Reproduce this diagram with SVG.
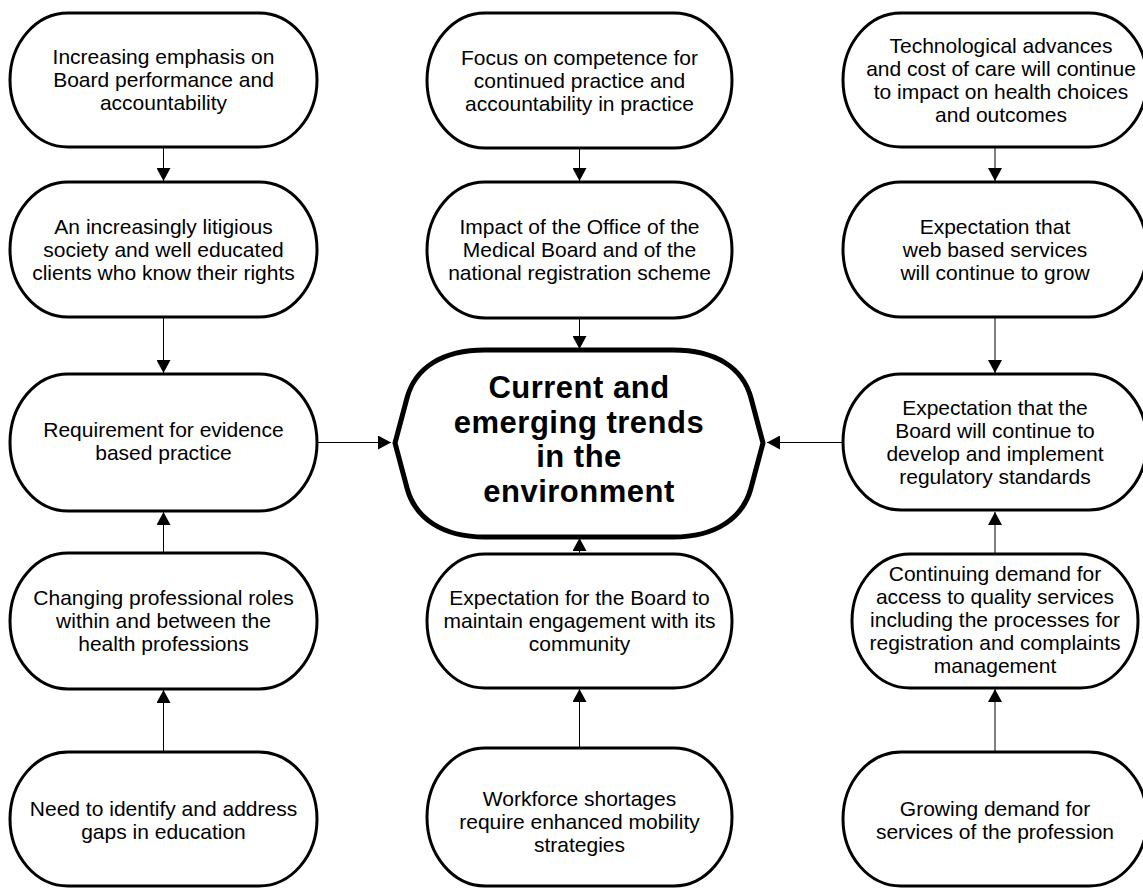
<svg xmlns="http://www.w3.org/2000/svg" width="1143" height="892" viewBox="0 0 1143 892">
<style>
.node{fill:#fff;stroke:#000;stroke-width:3}
.core{fill:#fff;stroke:#000;stroke-width:5}
.t{font-family:"Liberation Sans",Arial,sans-serif;font-size:21px;fill:#000;text-anchor:middle}
.tb{font-family:"Liberation Sans",Arial,sans-serif;font-size:31px;font-weight:bold;fill:#000;text-anchor:middle;letter-spacing:0.5px}
.c{stroke:#000;stroke-width:1;fill:none;marker-end:url(#ah)}
</style>
<defs>
<marker id="ah" markerUnits="userSpaceOnUse" markerWidth="14" markerHeight="14" refX="13" refY="7" orient="auto">
<path d="M0,0 L13,7 L0,14 Z" fill="#000"/>
</marker>
</defs>
<rect width="1143" height="892" fill="#fff"/>
<g id="connectors">
<line class="c" x1="163.5" y1="147" x2="163.5" y2="181"/>
<line class="c" x1="163.5" y1="317" x2="163.5" y2="373"/>
<line class="c" x1="163.5" y1="752" x2="163.5" y2="690"/>
<line class="c" x1="163.5" y1="553" x2="163.5" y2="512"/>
<line class="c" x1="317" y1="442.5" x2="391" y2="442.5"/>
<line class="c" x1="579.5" y1="148" x2="579.5" y2="181"/>
<line class="c" x1="579.5" y1="318" x2="579.5" y2="349"/>
<line class="c" x1="579.5" y1="748" x2="579.5" y2="689"/>
<line class="c" x1="579.5" y1="554" x2="579.5" y2="538"/>
<line class="c" x1="995" y1="147" x2="995" y2="181"/>
<line class="c" x1="995" y1="317" x2="995" y2="373"/>
<line class="c" x1="995" y1="752" x2="995" y2="689"/>
<line class="c" x1="995" y1="554" x2="995" y2="512"/>
<line class="c" x1="843" y1="442.5" x2="767" y2="442.5"/>
</g>
<g id="n-l1"><rect class="node" x="10" y="13" width="307" height="134" rx="58" ry="67"/>
<text class="t"><tspan x="163.5" y="64">Increasing emphasis on</tspan><tspan x="163.5" y="87">Board performance and</tspan><tspan x="163.5" y="110">accountability</tspan></text></g>
<g id="n-l2"><rect class="node" x="10" y="182" width="307" height="135" rx="58" ry="67.5"/>
<text class="t"><tspan x="163.5" y="233.5">An increasingly litigious</tspan><tspan x="163.5" y="256.5">society and well educated</tspan><tspan x="163.5" y="279.5">clients who know their rights</tspan></text></g>
<g id="n-l3"><rect class="node" x="10" y="374" width="307" height="137" rx="58" ry="68.5"/>
<text class="t"><tspan x="163.5" y="437">Requirement for evidence</tspan><tspan x="163.5" y="460">based practice</tspan></text></g>
<g id="n-l4"><rect class="node" x="10" y="553" width="307" height="136" rx="58" ry="68"/>
<text class="t"><tspan x="163.5" y="605">Changing professional roles</tspan><tspan x="163.5" y="628">within and between the</tspan><tspan x="163.5" y="651">health professions</tspan></text></g>
<g id="n-l5"><rect class="node" x="10" y="752" width="307" height="134" rx="58" ry="67"/>
<text class="t"><tspan x="163.5" y="816">Need to identify and address</tspan><tspan x="163.5" y="839">gaps in education</tspan></text></g>
<g id="n-m1"><rect class="node" x="427" y="13" width="305" height="135" rx="58" ry="67.5"/>
<text class="t"><tspan x="579.5" y="64.5">Focus on competence for</tspan><tspan x="579.5" y="87.5">continued practice and</tspan><tspan x="579.5" y="110.5">accountability in practice</tspan></text></g>
<g id="n-m2"><rect class="node" x="427" y="182" width="305" height="136" rx="58" ry="68"/>
<text class="t"><tspan x="579.5" y="234">Impact of the Office of the</tspan><tspan x="579.5" y="257">Medical Board and of the</tspan><tspan x="579.5" y="280">national registration scheme</tspan></text></g>
<g id="n-core"><path class="core" d="M485,350 H673 C716,350 743,368 751,398 L763,443 L751,488 C743,518 716,537 673,537 H485 C442,537 415,518 407,488 L395,443 L407,398 C415,368 442,350 485,350 Z"/>
<text class="tb"><tspan x="579" y="398">Current and</tspan><tspan x="579" y="433">emerging trends</tspan><tspan x="579" y="467">in the</tspan><tspan x="579" y="502">environment</tspan></text></g>
<g id="n-m4"><rect class="node" x="427" y="554" width="305" height="134" rx="58" ry="67"/>
<text class="t"><tspan x="579.5" y="605">Expectation for the Board to</tspan><tspan x="579.5" y="628">maintain engagement with its</tspan><tspan x="579.5" y="651">community</tspan></text></g>
<g id="n-m5"><rect class="node" x="427" y="748" width="305" height="138" rx="58" ry="69"/>
<text class="t"><tspan x="579.5" y="806">Workforce shortages</tspan><tspan x="579.5" y="829">require enhanced mobility</tspan><tspan x="579.5" y="852">strategies</tspan></text></g>
<g id="n-r1"><rect class="node" x="843" y="13" width="304" height="134" rx="58" ry="67"/>
<text class="t"><tspan x="1001" y="52.5">Technological advances</tspan><tspan x="1001" y="75.5">and cost of care will continue</tspan><tspan x="1001" y="98.5">to impact on health choices</tspan><tspan x="1001" y="121.5">and outcomes</tspan></text></g>
<g id="n-r2"><rect class="node" x="843" y="182" width="304" height="135" rx="58" ry="67.5"/>
<text class="t"><tspan x="995" y="233.5">Expectation that</tspan><tspan x="995" y="256.5">web based services</tspan><tspan x="995" y="279.5">will continue to grow</tspan></text></g>
<g id="n-r3"><rect class="node" x="843" y="374" width="304" height="136" rx="58" ry="68"/>
<text class="t"><tspan x="995" y="414.5">Expectation that the</tspan><tspan x="995" y="437.5">Board will continue to</tspan><tspan x="995" y="460.5">develop and implement</tspan><tspan x="995" y="483.5">regulatory standards</tspan></text></g>
<g id="n-r4"><rect class="node" x="852" y="554" width="286" height="134" rx="58" ry="67"/>
<text class="t"><tspan x="995" y="581">Continuing demand for</tspan><tspan x="995" y="604">access to quality services</tspan><tspan x="995" y="627">including the processes for</tspan><tspan x="995" y="650">registration and complaints</tspan><tspan x="995" y="673">management</tspan></text></g>
<g id="n-r5"><rect class="node" x="843" y="752" width="304" height="134" rx="58" ry="67"/>
<text class="t"><tspan x="995" y="816">Growing demand for</tspan><tspan x="995" y="839">services of the profession</tspan></text></g>
</svg>
